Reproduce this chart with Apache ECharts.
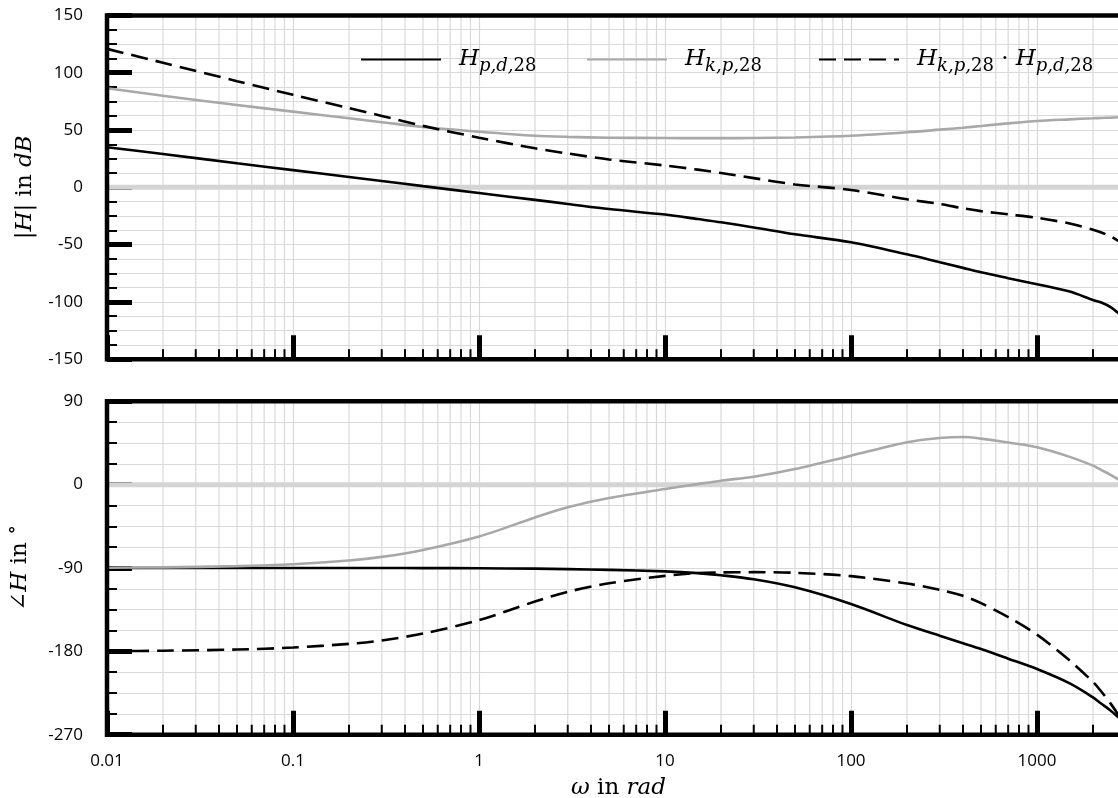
<!DOCTYPE html>
<html>
<head>
<meta charset="utf-8">
<script src="https://cdn.jsdelivr.net/npm/echarts@6/dist/echarts.min.js"></script>
<style>
  html, body { margin: 0; padding: 0; background: #fff; }
  #chart { width: 1118px; height: 798px; }
</style>
</head>
<body>
<div id="chart"></div>
<script>
// Frequency samples (rad/s)
const omega = [0.01, 0.02, 0.05, 0.1, 0.2, 0.3, 0.5, 1, 2, 3, 5, 10, 15, 20, 30, 50, 100, 200, 300, 400, 500, 700, 1000, 1500, 2000, 2200, 2500, 2750];

// Magnitudes in dB
const magPd   = [35, 29, 21, 15, 9, 5.5, 1, -5, -11, -14.5, -19, -23.8, -27.7, -30.5, -35, -41, -48, -58.5, -65.4, -70.3, -74.2, -79.3, -84.6, -91, -98.3, -100.3, -104.7, -110];
const magKp   = [86.4, 79.9, 71.8, 66, 60.2, 56.8, 52.6, 48.5, 45, 44, 43.3, 43, 42.9, 42.9, 43, 43.5, 45, 48, 50.3, 52, 53.5, 55.8, 57.9, 59.3, 60.2, 60.5, 60.8, 61.1];
const magProd = [120.8, 108.7, 92.6, 80.7, 69.2, 62.3, 53.6, 43.3, 34, 29.5, 24.3, 19, 15.4, 12.4, 8, 2.5, -2.3, -10.5, -14.5, -18.3, -20.8, -23.6, -26.6, -31.6, -37, -39.2, -43, -47];

// Phases in degrees
const phPd   = [-90, -90, -90, -90, -90, -90, -90.1, -90.3, -90.7, -91.2, -92, -93.6, -95.5, -97.8, -102.2, -110.9, -128.9, -151.6, -163.1, -171.2, -177.5, -187.9, -199.1, -214.6, -229.7, -236, -244.3, -251.5];
const phKp   = [-89.7, -89.3, -88, -85.9, -81.9, -78, -70.5, -56, -35.5, -24.5, -14.5, -4.7, 0.6, 4.3, 8.6, 16.9, 31.3, 45.7, 50.3, 51.4, 49.7, 45.5, 40.3, 30, 20.5, 16.2, 10.4, 5.5];
const phProd = [-179.8, -179.3, -178, -175.9, -171.9, -168.2, -160.8, -146.3, -126.2, -115.7, -106.5, -98.5, -95.5, -94.8, -94.5, -95.2, -98.8, -106.8, -113.5, -120, -128, -143, -162, -190, -213, -222.5, -237, -249];

// Series names and their legend texts
const names = ['Hpd', 'Hkp', 'Hprod'];
const legendText = {
  Hpd:   '{i|H}{s|p,d,}{sr|28}',
  Hkp:   '{i|H}{s|k,p,}{sr|28}',
  Hprod: '{i|H}{s|k,p,}{sr|28}{r| · }{i|H}{s|p,d,}{sr|28}'
};

// Axis ranges and tick spacing
const xMin = 0.01, xMax = 3162.28;
const magRange = [-150, 150], magStep = 50;
const phRange = [-270, 90], phStep = 90;

// Log-axis minor tick positions (2..9 within each decade)
const decades = [0.01, 0.1, 1, 10, 100, 1000];
const multipliers = [2, 3, 4, 5, 6, 7, 8, 9];

const pairs = (ys) => omega.map((w, i) => [w, ys[i]]);
const minorTicks = [];
decades.forEach(d => multipliers.forEach(m => minorTicks.push(+(d * m).toPrecision(3))));

const GRID_GRAY = '#d9d9d9';
const CURVE_GRAY = '#a8a8a8';
const mathFont = 'DejaVu Serif';
const labelFont = 'Open Sans';

const rich = {
  i:   { fontFamily: mathFont, fontStyle: 'italic', fontSize: 23, color: '#000' },
  r:   { fontFamily: mathFont, fontSize: 23, color: '#000' },
  s:   { fontFamily: mathFont, fontStyle: 'italic', fontSize: 18, color: '#000', padding: [14, 0, 0, 0] },
  sr:  { fontFamily: mathFont, fontSize: 18, color: '#000', padding: [14, 0, 0, 0] },
  sup: { fontFamily: mathFont, fontSize: 20, color: '#000', padding: [0, 0, 14, 0] }
};

function minorGrid(yMin, yMax) {
  return function (params, api) {
    const x = api.value(0);
    const top = api.coord([x, yMax]);
    const bot = api.coord([x, yMin]);
    return {
      type: 'group',
      children: [
        { type: 'line', shape: { x1: top[0], y1: top[1], x2: bot[0], y2: bot[1] },
          style: { stroke: GRID_GRAY, lineWidth: 1.2 } },
        { type: 'line', shape: { x1: bot[0], y1: bot[1], x2: bot[0], y2: bot[1] - 10 },
          style: { stroke: '#000', lineWidth: 2 } }
      ]
    };
  };
}

function xAxisCfg(gridIndex, showLabels) {
  return {
    gridIndex, type: 'log', logBase: 10, min: xMin, max: xMax,
    axisLine: { show: false, onZero: false },
    axisTick: { show: true, inside: true, length: 24, lineStyle: { color: '#000', width: 5 } },
    axisLabel: { show: showLabels, showMaxLabel: false, color: '#000', fontFamily: labelFont, fontSize: 17, margin: 18,
                 formatter: v => String(v) },
    splitLine: { show: true, lineStyle: { color: GRID_GRAY, width: 1.2 } },
    name: showLabels ? '{i|ω}{r| in }{i|rad}' : '',
    nameLocation: 'middle', nameGap: 42,
    nameTextStyle: { rich }
  };
}

function yAxisCfg(gridIndex, range, step, name, gap) {
  return {
    gridIndex, type: 'value', min: range[0], max: range[1], interval: step,
    axisLine: { show: false, onZero: false },
    axisTick: { show: true, inside: true, length: 25, lineStyle: { color: '#000', width: 5 } },
    minorTick: { show: true, splitNumber: 4, length: 10, lineStyle: { color: '#000', width: 2 } },
    axisLabel: { color: '#000', fontFamily: labelFont, fontSize: 17, margin: 24 },
    splitLine: { show: true, lineStyle: { color: GRID_GRAY, width: 1.2 } },
    minorSplitLine: { show: true, lineStyle: { color: GRID_GRAY, width: 1.2 } },
    name, nameLocation: 'middle', nameRotate: 90, nameGap: gap,
    nameTextStyle: { rich }
  };
}

function curve(name, data, xi, color, dashed) {
  return {
    name, type: 'line', xAxisIndex: xi, yAxisIndex: xi, data,
    showSymbol: false, symbol: 'none', smooth: 0.3, z: 3,
    lineStyle: { color, width: 2.6, type: dashed ? [17, 8] : 'solid' },
    itemStyle: { color }
  };
}

function zeroLine(xi) {
  return {
    name: 'zero', type: 'line', xAxisIndex: xi, yAxisIndex: xi, silent: true, z: 2,
    data: [[xMin, 0], [xMax, 0]], showSymbol: false, symbol: 'none',
    lineStyle: { color: '#d4d4d4', width: 5 }
  };
}

function gridSeries(xi, range) {
  return {
    type: 'custom', xAxisIndex: xi, yAxisIndex: xi, silent: true, z: 1,
    data: minorTicks.map(v => [v, range[0]]),
    encode: { x: 0, y: 1 },
    renderItem: minorGrid(range[0], range[1])
  };
}

// One legend block per entry, each anchored at its own left edge
const legendLefts = [355, 581, 813];
const legends = names.map((n, k) => ({
  data: [n], left: legendLefts[k], top: 43, itemWidth: 80, itemHeight: 14,
  selectedMode: false,
  itemStyle: { opacity: 0 },
  formatter: nm => legendText[nm],
  textStyle: { padding: [0, 0, 0, 13], rich }
}));

const chart = echarts.init(document.getElementById('chart'), null, { renderer: 'canvas' });
chart.setOption({
  animation: false,
  backgroundColor: '#fff',
  grid: [
    { left: 107, top: 15.4, width: 1023, height: 343.8, show: true, z: 10, outerBoundsMode: 'none',
      borderColor: '#000', borderWidth: 4.5, backgroundColor: 'transparent' },
    { left: 107, top: 401.3, width: 1023, height: 333.4, show: true, z: 10, outerBoundsMode: 'none',
      borderColor: '#000', borderWidth: 4.5, backgroundColor: 'transparent' }
  ],
  legend: legends,
  xAxis: [xAxisCfg(0, false), xAxisCfg(1, true)],
  yAxis: [
    yAxisCfg(0, magRange, magStep, '{r||}{i|H}{r||}{r| in }{i|dB}', 70),
    yAxisCfg(1, phRange, phStep, '{r|∠}{i|H}{r| in }{sup|∘}', 70)
  ],
  series: [
    gridSeries(0, magRange), gridSeries(1, phRange),
    zeroLine(0), zeroLine(1),
    curve('Hpd', pairs(magPd), 0, '#000', false),
    curve('Hkp', pairs(magKp), 0, CURVE_GRAY, false),
    curve('Hprod', pairs(magProd), 0, '#000', true),
    curve('Hpd', pairs(phPd), 1, '#000', false),
    curve('Hkp', pairs(phKp), 1, CURVE_GRAY, false),
    curve('Hprod', pairs(phProd), 1, '#000', true)
  ]
});
</script>
</body>
</html>
